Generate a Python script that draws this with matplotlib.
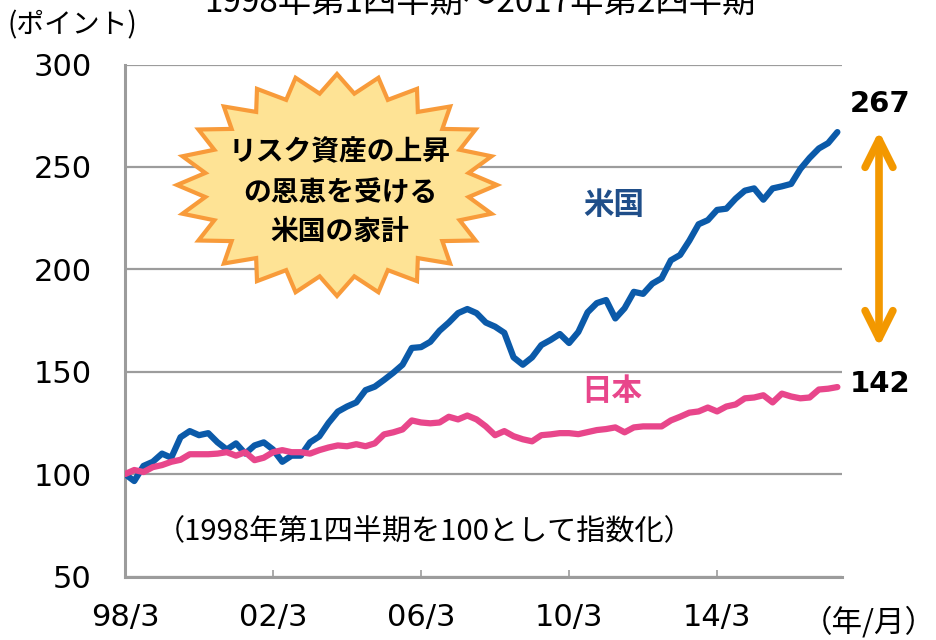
import numpy as np
import matplotlib
matplotlib.use("Agg")
import matplotlib.pyplot as plt
from matplotlib.patches import Polygon, FancyArrowPatch

plt.rcParams["font.family"] = ["DejaVu Sans", "Noto Sans CJK JP"]

# quarterly index, 1998Q1 = 100 (1998Q1 .. 2017Q2)
us = [100, 96.6, 104, 106, 110, 108, 118, 121, 119, 120,
      115.5, 112, 115, 110, 114, 115.5, 112, 106, 109, 109,
      115.5, 118.4, 125, 130.5, 133, 135, 141, 142.7, 146, 149.5,
      153.4, 161.6, 162, 164.6, 170, 174, 178.6, 180.6, 178.6, 174,
      172, 169, 157, 153.4, 157, 163, 165.5, 168.4, 164, 169.4,
      179, 183.5, 185, 176, 181, 189, 188, 193, 195.6, 204.4,
      207, 214, 222, 224, 229, 229.6, 234.5, 238.4, 239.5, 234,
      239.5, 240.5, 241.7, 249, 254.4, 259, 261.6, 267]
japan = [100, 102, 101, 103.4, 104.4, 106, 107, 109.7, 109.7, 109.7,
         110, 110.7, 109, 110.7, 106.8, 108, 110.7, 111.7, 110.7, 110.7,
         110, 111.7, 113, 114, 113.6, 114.6, 113.6, 115, 119.4, 120.4,
         121.8, 126.2, 125.2, 124.8, 125.2, 128, 126.7, 128.6, 126.7, 123.3,
         119, 121, 118.5, 117, 116, 119, 119.4, 120, 120, 119.5,
         120.5, 121.5, 122, 122.8, 120.4, 122.8, 123.3, 123.3, 123.3, 126.2,
         128, 130, 130.6, 132.5, 130.6, 133, 134, 137, 137.4, 138.5,
         135, 139.3, 137.9, 137, 137.4, 141.3, 141.7, 142.5]
tick_pos = [0, 16, 32, 48, 64]
tick_labels = ["98/3", "02/3", "06/3", "10/3", "14/3"]
y_ticks = [50, 100, 150, 200, 250, 300]

US_COLOR = "#0b5aa9"
JP_COLOR = "#e8468b"
GRAY = "#9c9c9c"
CJK = "Noto Sans CJK JP"

W, H = 937, 640
fig = plt.figure(figsize=(W / 100, H / 100), dpi=100)
ax = fig.add_axes([125 / W, 1 - 576.5 / H, (842 - 125) / W, (576.5 - 64.5) / H])

x = np.arange(len(us))
ax.plot(x, us, color=US_COLOR, lw=4.5, solid_capstyle="round", solid_joinstyle="round", zorder=3)
ax.plot(x, japan, color=JP_COLOR, lw=4.5, solid_capstyle="round", solid_joinstyle="round", zorder=4)

ax.set_xlim(0, 77.5)
ax.set_ylim(50, 300)
ax.set_yticks(y_ticks)
ax.set_xticks(tick_pos)
ax.set_xticklabels(tick_labels)
ax.tick_params(axis="y", length=0, pad=24, labelsize=22)
ax.tick_params(axis="x", direction="in", length=5, width=1.2, color=GRAY, pad=19, labelsize=22)
ax.yaxis.grid(True, color=GRAY, lw=1.6)
ax.set_axisbelow(True)
for s in ["top", "right"]:
    ax.spines[s].set_visible(False)
for s in ["left", "bottom"]:
    ax.spines[s].set_color(GRAY)
    ax.spines[s].set_linewidth(2.2)


def fx(px):
    return px / W


def fy(py):
    return 1 - py / H


# title (cut off at top, as in the source)
fig.text(fx(480), fy(12), "1998年第1四半期～2017年第2四半期", family=CJK,
         fontsize=24, ha="center", va="baseline")
fig.text(fx(8), fy(25), "(ポイント)", family=CJK, fontsize=20, ha="left", va="center")
fig.text(fx(869), fy(623), "（年/月）", family=CJK, fontsize=22, ha="center", va="center")
fig.text(fx(425), fy(532), "（1998年第1四半期を100として指数化）", family=CJK,
         fontsize=21, ha="center", va="center")

# starburst
n = 24
cx, cy, rx, ry = 337, 185, 160, 111
ang = np.pi / 2 - np.arange(2 * n) * np.pi / n
r = np.where(np.arange(2 * n) % 2 == 0, 1.0, 0.83)
pts = [(fx(cx + rx * ri * np.cos(a)), fy(cy - ry * ri * np.sin(a))) for a, ri in zip(ang, r)]
star = Polygon(pts, closed=True, transform=fig.transFigure, facecolor="#fee395",
               edgecolor="#f89b3a", lw=3, joinstyle="miter", zorder=5)
fig.add_artist(star)
for txt, py in [("リスク資産の上昇", 152), ("の恩恵を受ける", 193), ("米国の家計", 232)]:
    fig.text(fx(340), fy(py), txt, family=CJK, fontsize=20, fontweight="bold",
             ha="center", va="center", zorder=6)

fig.text(fx(614), fy(205), "米国", family=CJK, fontsize=22, fontweight="bold",
         color="#1f4e89", ha="center", va="center")
fig.text(fx(612), fy(391), "日本", family=CJK, fontsize=22, fontweight="bold",
         color=JP_COLOR, ha="center", va="center")

fig.text(fx(880), fy(104), "267", fontsize=21, fontweight="bold", ha="center", va="center")
fig.text(fx(880), fy(384), "142", fontsize=21, fontweight="bold", ha="center", va="center")

arrow = FancyArrowPatch((fx(879), fy(131)), (fx(879), fy(347)), transform=fig.transFigure,
                        arrowstyle="<->,head_length=1.0,head_width=0.5", mutation_scale=20,
                        color="#f39800", lw=5.5, capstyle="round", joinstyle="round",
                        shrinkA=0, shrinkB=0)
fig.add_artist(arrow)

fig.savefig("out.png", dpi=100)
